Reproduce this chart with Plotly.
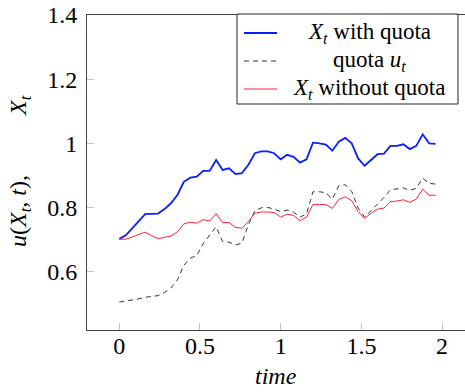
import plotly.graph_objects as go

t = [round(0.04 * k, 2) for k in range(50)]

x_with_quota = [0.702, 0.713, 0.735, 0.757, 0.779, 0.780, 0.781, 0.795, 0.813, 0.839,
                0.880, 0.893, 0.896, 0.914, 0.914, 0.948, 0.917, 0.922, 0.904, 0.907,
                0.933, 0.969, 0.975, 0.975, 0.969, 0.950, 0.964, 0.958, 0.940, 0.950,
                1.002, 1.000, 0.996, 0.977, 1.005, 1.017, 1.000, 0.953, 0.930, 0.948,
                0.966, 0.968, 0.992, 0.992, 0.997, 0.982, 0.992, 1.028, 1.000, 0.998]

quota_u = [0.505, 0.508, 0.511, 0.515, 0.520, 0.523, 0.525, 0.535, 0.549, 0.574,
           0.620, 0.642, 0.650, 0.688, 0.715, 0.740, 0.694, 0.692, 0.683, 0.689,
           0.746, 0.790, 0.799, 0.800, 0.795, 0.787, 0.792, 0.785, 0.770, 0.780,
           0.849, 0.849, 0.846, 0.826, 0.868, 0.871, 0.850, 0.798, 0.770, 0.790,
           0.813, 0.831, 0.855, 0.857, 0.861, 0.853, 0.860, 0.891, 0.875, 0.873]

x_without_quota = [0.701, 0.701, 0.708, 0.715, 0.723, 0.712, 0.703, 0.707, 0.711, 0.724,
                   0.749, 0.754, 0.751, 0.762, 0.758, 0.780, 0.753, 0.753, 0.738, 0.735,
                   0.756, 0.782, 0.786, 0.786, 0.784, 0.770, 0.779, 0.775, 0.759, 0.770,
                   0.809, 0.809, 0.809, 0.797, 0.825, 0.833, 0.821, 0.787, 0.766, 0.782,
                   0.795, 0.798, 0.818, 0.820, 0.824, 0.816, 0.826, 0.857, 0.838, 0.838]

series_names = ["<i>X</i><sub><i>t</i></sub> with quota",
                "quota <i>u</i><sub><i>t</i></sub>",
                "<i>X</i><sub><i>t</i></sub> without quota"]

x_ticks = [0, 0.5, 1, 1.5, 2]
x_tick_labels = ["0", "0.5", "1", "1.5", "2"]
y_ticks = [0.6, 0.8, 1.0, 1.2, 1.4]
y_tick_labels = ["0.6", "0.8", "1", "1.2", "1.4"]

FONT = "Liberation Serif, DejaVu Serif, serif"
NB = "&nbsp;"

line_styles = [dict(color="#0a1eff", width=1.8),
               dict(color="#333333", width=1, dash="5px,4px"),
               dict(color="#ff2035", width=1)]

fig = go.Figure()
for ys, name, ls in zip([x_with_quota, quota_u, x_without_quota], series_names, line_styles):
    fig.add_trace(go.Scatter(x=t, y=ys, mode="lines", line=ls, name=name,
                             showlegend=False))

L, R, T, B = 87, 0, 15, 62
W, H = 465, 392
pw = W - L - R
ph = H - T - B


def px(x):
    return (x - L) / pw


def py(y):
    return (H - B - y) / ph


fig.update_layout(
    width=W, height=H,
    margin=dict(l=L, r=R, t=T, b=B, autoexpand=False),
    paper_bgcolor="white", plot_bgcolor="white",
    font=dict(family=FONT, size=24, color="black"),
    showlegend=False,
    xaxis=dict(range=[-0.2, -0.2 + pw / 161.4], tickvals=x_ticks, ticktext=x_tick_labels,
               ticks="inside", ticklen=7, tickcolor="#c4c4c4", showgrid=False,
               zeroline=False, showline=True, linecolor="#444444", linewidth=1,
               mirror=True, ticklabelstandoff=-6, tickfont=dict(family=FONT, size=24)),
    yaxis=dict(range=[0.418, 1.4], tickvals=y_ticks, ticktext=y_tick_labels,
               ticks="inside", ticklen=7, tickcolor="#c4c4c4", showgrid=False,
               zeroline=False, showline=True, linecolor="#444444", linewidth=1,
               ticklabelstandoff=4, tickfont=dict(family=FONT, size=24)),
)

# legend box (drawn manually so entries can be centred as in the reference)
fig.add_shape(type="rect", xref="paper", yref="paper",
              x0=px(237), x1=px(458), y0=py(104), y1=py(14),
              fillcolor="white", line=dict(color="#222222", width=1), layer="above")
for row_y, name, ls in zip([32, 60, 88], series_names, line_styles):
    fig.add_shape(type="line", xref="paper", yref="paper",
                  x0=px(244), x1=px(277), y0=py(row_y + 1), y1=py(row_y + 1),
                  line=dict(color=ls["color"], width=ls["width"], dash=ls.get("dash", "solid")),
                  layer="above")
    fig.add_annotation(text=name, xref="paper", yref="paper",
                       x=px(369), y=py(row_y + 1), xanchor="center", yanchor="middle",
                       showarrow=False, borderpad=0,
                       font=dict(family=FONT, size=23, color="black"))

fig.add_annotation(text="<i>time</i>", xref="paper", yref="paper",
                   x=px(276), y=py(376),
                   xanchor="center", yanchor="middle", showarrow=False,
                   font=dict(family=FONT, size=24))
fig.add_annotation(text="<i>u</i>(<i>X</i><sub><i>t</i></sub>, <i>t</i>)," + NB * 10 +
                        "<i>X</i><sub><i>t</i></sub>",
                   xref="paper", yref="paper",
                   x=px(20), y=py(171), textangle=-90,
                   xanchor="center", yanchor="middle", showarrow=False,
                   font=dict(family=FONT, size=24))

fig.write_html("out.html", config={"displayModeBar": False},
               post_script="document.body.style.margin='0';document.body.style.overflow='hidden';")
